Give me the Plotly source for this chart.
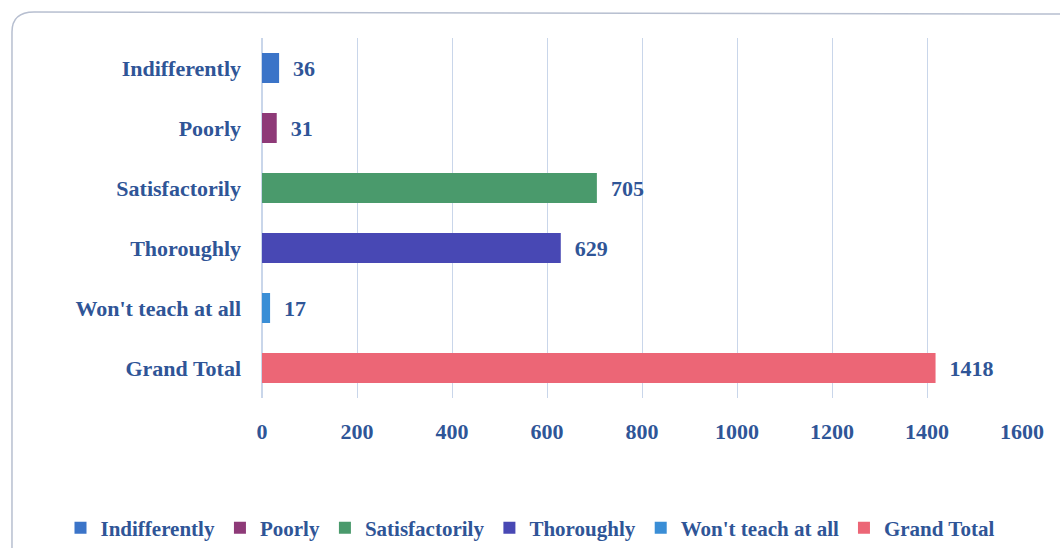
import plotly.graph_objects as go

categories = ["Indifferently", "Poorly", "Satisfactorily", "Thoroughly", "Won't teach at all", "Grand Total"]
values = [36, 31, 705, 629, 17, 1418]
colors = ["#3b74c8", "#8e3a78", "#4a9a6c", "#4848b4", "#3a8ed6", "#ec6676"]
x_ticks = [0, 200, 400, 600, 800, 1000, 1200, 1400, 1600]

text_color = "#2f5597"
font_family = "Liberation Serif"
W, H = 1060, 558

fig = go.Figure()
for cat, val, col in zip(categories, values, colors):
    fig.add_trace(go.Bar(
        x=[val], y=[cat], orientation="h", name=cat,
        marker=dict(color=col, line=dict(width=0)),
        width=0.5,
        text=[str(val)], texttemplate="  %{text}", textposition="outside", cliponaxis=False,
        textfont=dict(family=font_family, size=22, color=text_color, weight="bold"),
    ))

fig.update_layout(
    width=W, height=H,
    paper_bgcolor="white", plot_bgcolor="white",
    margin=dict(l=0, r=0, t=0, b=0),
    barmode="overlay",
    showlegend=True,
    legend=dict(orientation="h", x=0.5, xanchor="center", y=1 - 528 / H, yanchor="middle",
                font=dict(family=font_family, size=21, color=text_color, weight="bold"),
                itemwidth=30, traceorder="normal", tracegroupgap=0),
    font=dict(family=font_family, color=text_color),
)
fig.update_xaxes(
    domain=[262 / W, 1022 / W], range=[0, 1600], automargin=False,
    tickvals=x_ticks, ticktext=[str(v) for v in x_ticks],
    showgrid=True, gridcolor="#c9d6ea", gridwidth=1,
    zeroline=True, zerolinecolor="#c9d6ea",
    tickfont=dict(family=font_family, size=22, color=text_color, weight="bold"),
    ticks="", ticklabelstandoff=18,
)
fig.update_yaxes(
    domain=[1 - 398 / H, 1 - 38 / H], automargin=False,
    categoryorder="array", categoryarray=categories[::-1],
    tickfont=dict(family=font_family, size=22, color=text_color, weight="bold"),
    showgrid=False, ticks="", ticklabelstandoff=20,
)

def px(x, y):
    return f"{x / W:.4f},{1 - y / H:.4f}"

fig.add_shape(type="path",
              path=f"M {px(12, 548)} L {px(12, 32)} Q {px(12, 12)} {px(34, 12)} L {px(1062, 14)}",
              xref="paper", yref="paper", line=dict(color="#b7bfd0", width=1.5))
fig.write_html("out.html",
               config={"displayModeBar": False},
               post_script="document.body.style.margin='0';document.body.style.padding='0';")
